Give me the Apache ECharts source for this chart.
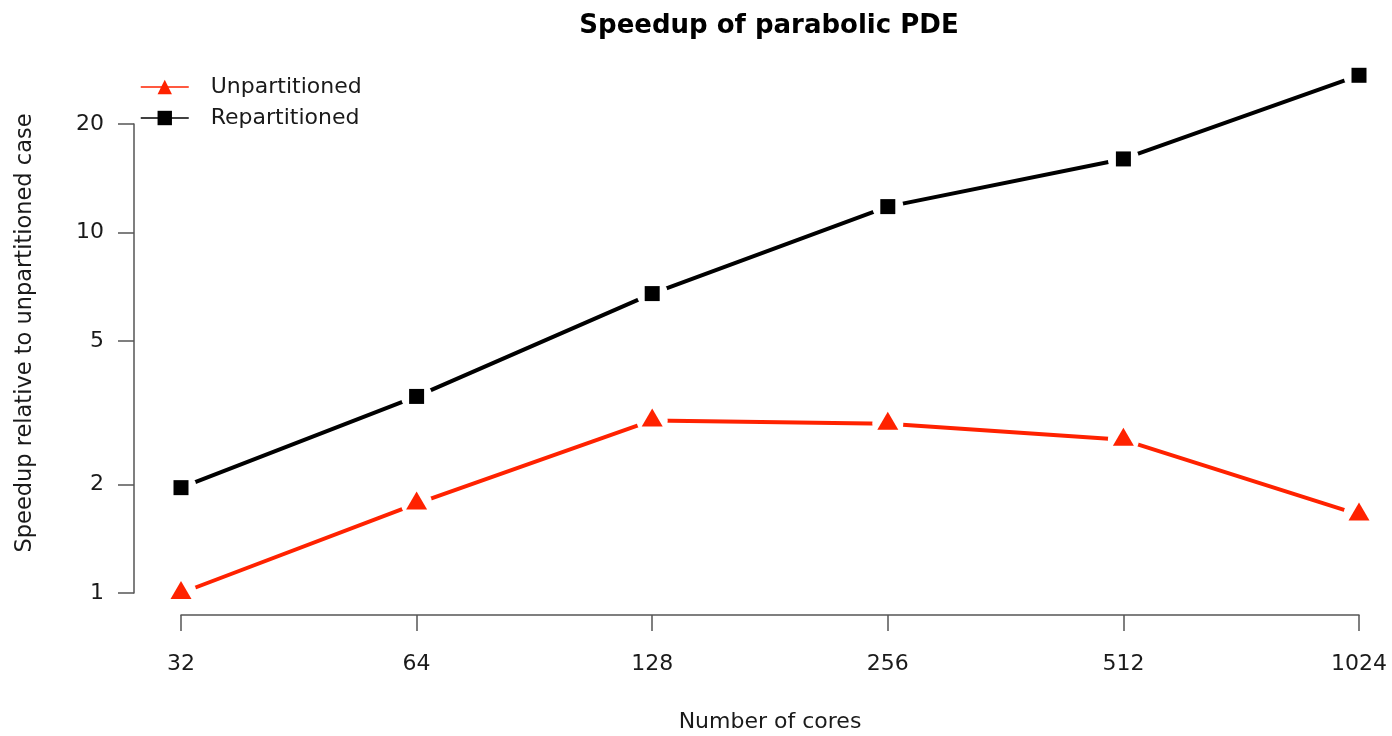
<!DOCTYPE html>
<html>
<head>
<meta charset="utf-8">
<title>Speedup of parabolic PDE</title>
<script src="https://cdn.jsdelivr.net/npm/echarts@6/dist/echarts.min.js"></script>
<style>
	html, body { margin: 0; padding: 0; background: #fff; }
	#chart { width: 1392px; height: 736px; }
</style>
</head>
<body>
<div id="chart"></div>
<script>
	// values
	const cores = ['32', '64', '128', '256', '512', '1024'];
	const unpartitioned = [1.0, 1.77, 3.01, 2.95, 2.66, 1.65];
	const repartitioned = [1.96, 3.51, 6.77, 11.8, 16.0, 27.3];
	const yTicks = [1, 2, 5, 10, 20];

	const font = 'DejaVu Sans';
	const textColor = '#1a1a1a';
	const axisColor = '#555';

	// value axis over log10 values = log scale with R style ticks
	const lg = v => Math.log10(v);

	// R type="b": line, white gap round each point, then the marker
	function makeSeries(name, values, color, symbol, size, offset) {
		const d = values.map(lg);
		return [{
			name: name,
			type: 'line',
			data: d,
			symbol: symbol,
			symbolSize: size,
			showSymbol: false,
			clip: false,
			z: 2,
			lineStyle: { color: color, width: 4 },
			itemStyle: { color: color }
		}, {
			name: name + ' gap',
			type: 'scatter',
			data: d,
			symbol: 'circle',
			symbolSize: 31,
			clip: false,
			silent: true,
			z: 5,
			itemStyle: { color: '#fff', opacity: 1 }
		}, {
			name: name + ' mark',
			type: 'scatter',
			data: d,
			symbol: symbol,
			symbolSize: size,
			symbolOffset: offset,
			clip: false,
			z: 6,
			itemStyle: { color: color, opacity: 1 }
		}];
	}

	let option = {
		animation: false,
		title: {
			text: 'Speedup of parabolic PDE',
			left: 769,
			top: 13,
			padding: 0,
			textAlign: 'center',
			textStyle: { fontFamily: font, fontWeight: 'bold', fontSize: 26, color: '#000' }
		},
		legend: {
			data: ['Unpartitioned', 'Repartitioned'],
			orient: 'vertical',
			left: 140,
			top: 75,
			padding: 0,
			itemWidth: 48,
			itemHeight: 18,
			itemGap: 7,
			lineStyle: { width: 1.5 },
			textStyle: { fontFamily: font, fontSize: 22, color: textColor, lineHeight: 24, padding: [0, 0, 0, 17] }
		},
		grid: {
			left: 181,
			right: 33,
			top: 124,
			bottom: 143,
			outerBoundsMode: 'none'
		},
		xAxis: {
			type: 'category',
			data: cores,
			boundaryGap: false,
			offset: 22,
			axisLine: { onZero: false, lineStyle: { color: axisColor, width: 1.5 } },
			axisTick: { length: 16, lineStyle: { color: axisColor, width: 1.5 } },
			axisLabel: { fontFamily: font, fontSize: 22, color: textColor, margin: 38 },
			splitLine: { show: false },
			name: 'Number of cores',
			nameLocation: 'middle',
			nameGap: 96,
			nameTextStyle: { fontFamily: font, fontSize: 22, color: textColor }
		},
		yAxis: {
			type: 'value',
			min: 0,
			max: lg(20),
			offset: 47,
			axisLine: { show: true, lineStyle: { color: axisColor, width: 1.5 } },
			axisTick: { show: true, length: 16, customValues: yTicks.map(lg), lineStyle: { color: axisColor, width: 1.5 } },
			axisLabel: {
				customValues: yTicks.map(lg),
				margin: 30,
				fontFamily: font,
				fontSize: 22,
				color: textColor,
				formatter: function(v) {
					return String(Math.round(Math.pow(10, v)));
				}
			},
			splitLine: { show: false }
		},
		graphic: [{
			type: 'text',
			x: 25,
			y: 333,
			rotation: Math.PI / 2,
			style: {
				text: 'Speedup relative to unpartitioned case',
				fontFamily: font,
				fontSize: 22.5,
				fill: textColor,
				textAlign: 'center',
				textVerticalAlign: 'middle',
				align: 'center',
				verticalAlign: 'middle'
			}
		}],
		series: [].concat(
			makeSeries('Unpartitioned', unpartitioned, '#ff2200', 'triangle', [21, 18], [0, -3]),
			makeSeries('Repartitioned', repartitioned, '#000', 'rect', 15, [0, 0])
		)
	};

	let chart = echarts.init(document.getElementById('chart'));
	chart.setOption(option);
</script>
</body>
</html>
